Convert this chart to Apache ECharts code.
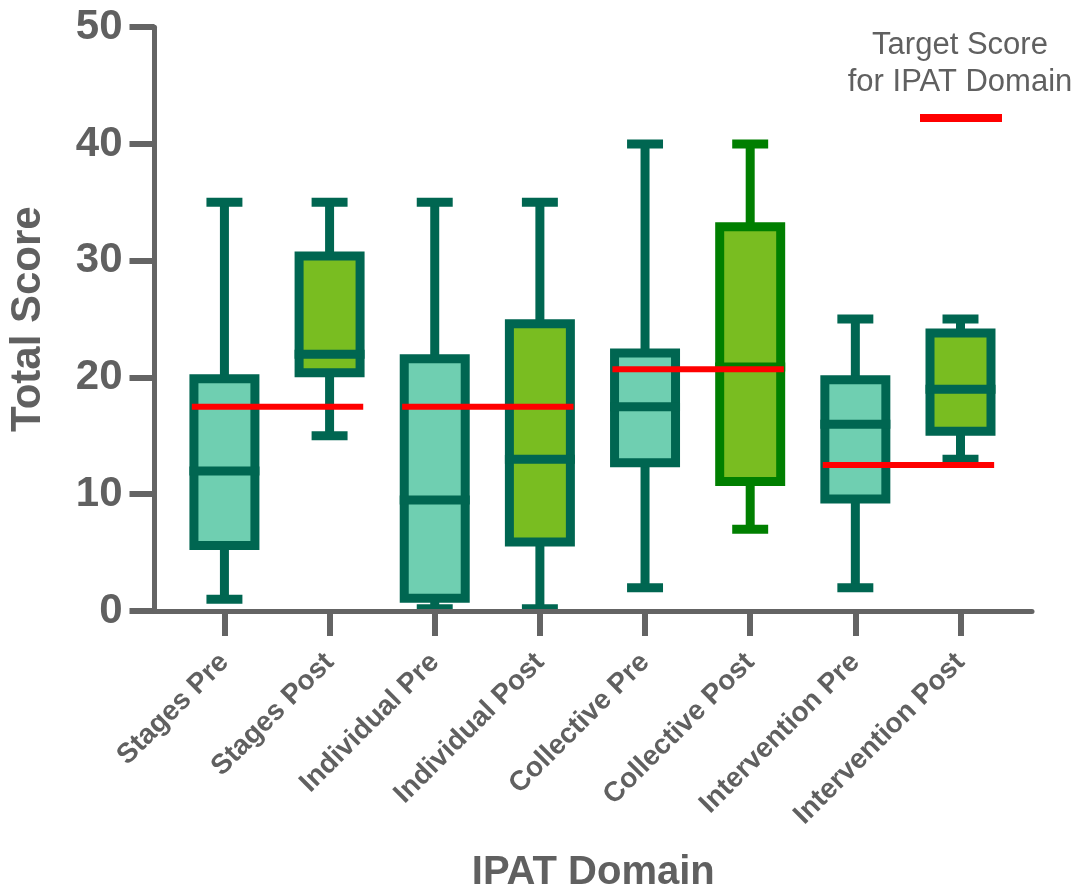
<!DOCTYPE html>
<html>
<head>
<meta charset="utf-8">
<script src="https://cdn.jsdelivr.net/npm/echarts@6/dist/echarts.min.js"></script>
<style>html,body{margin:0;padding:0;background:#fff;}#chart{width:1072px;height:892px;}</style>
</head>
<body>
<div id="chart"></div>
<script>
// ---- data ----
const categories = ['Stages Pre', 'Stages Post', 'Individual Pre', 'Individual Post',
  'Collective Pre', 'Collective Post', 'Intervention Pre', 'Intervention Post'];
const mins    = [1,    15,   0.2,  0.2,  2,    7,    2,    13];
const q1s     = [5.6,  20.4, 1.1,  5.9,  12.7, 11.1, 9.6,  15.4];
const medians = [12,   22,   9.5,  13,   17.5, 20.9, 16,   19];
const q3s     = [19.9, 30.4, 21.6, 24.6, 22.1, 32.9, 19.8, 23.8];
const maxs    = [35,   35,   35,   35,   40,   40,   25,   25];
const targetDomains = ['Stages', 'Individual', 'Collective', 'Intervention'];
const targetScores  = [17.5, 17.5, 20.7, 12.5];
const yTicks = [0, 10, 20, 30, 40, 50];

// ---- styles ----
const FONT = '"Liberation Sans", Arial, Helvetica, sans-serif';
const TEXT = '#606060';
const AXIS = '#646464';
const PRE_FILL = '#6fcfb1';
const POST_FILL = '#79bd21';
const DARK = '#006651';
const GREEN = '#007f00';
const RED = '#ff0000';

const boxData = categories.map((c, i) => [i, mins[i], q1s[i], medians[i], q3s[i], maxs[i]]);
const targetData = targetDomains.map((d, k) => [categories.indexOf(d + ' Pre'), targetScores[k]]);

function renderBox(params, api) {
  const x = api.value(0);
  const name = categories[x];
  const fill = /Pre$/.test(name) ? PRE_FILL : POST_FILL;
  const stroke = name === 'Collective Post' ? GREEN : DARK;
  const cw = api.size([1, 0])[0];
  const bw = cw * 0.58, capw = cw * 0.342, lw = 9;
  const pMin = api.coord([x, api.value(1)]);
  const pQ1 = api.coord([x, api.value(2)]);
  const pMed = api.coord([x, api.value(3)]);
  const pQ3 = api.coord([x, api.value(4)]);
  const pMax = api.coord([x, api.value(5)]);
  const cx = pMin[0];
  const ls = { stroke: stroke, lineWidth: lw, lineCap: 'butt' };
  return {
    type: 'group',
    children: [
      { type: 'line', shape: { x1: cx, y1: pMax[1], x2: cx, y2: pQ3[1] }, style: ls },
      { type: 'line', shape: { x1: cx, y1: pQ1[1], x2: cx, y2: pMin[1] }, style: ls },
      { type: 'line', shape: { x1: cx - capw / 2, y1: pMax[1], x2: cx + capw / 2, y2: pMax[1] }, style: ls },
      { type: 'line', shape: { x1: cx - capw / 2, y1: pMin[1], x2: cx + capw / 2, y2: pMin[1] }, style: ls },
      { type: 'rect', shape: { x: cx - bw / 2, y: pQ3[1], width: bw, height: pQ1[1] - pQ3[1] },
        style: { fill: fill, stroke: stroke, lineWidth: lw } },
      { type: 'line', shape: { x1: cx - bw / 2 - lw / 2, y1: pMed[1], x2: cx + bw / 2 + lw / 2, y2: pMed[1] }, style: ls }
    ]
  };
}

function renderTarget(params, api) {
  const x = api.value(0);
  const a = api.coord([x - 0.31, api.value(1)]);
  const b = api.coord([x + 1.32, api.value(1)]);
  return { type: 'line', shape: { x1: a[0], y1: a[1], x2: b[0], y2: b[1] },
    style: { stroke: RED, lineWidth: 6, lineCap: 'butt' } };
}

const chart = echarts.init(document.getElementById('chart'), null, { renderer: 'canvas' });
chart.setOption({
  animation: false,
  backgroundColor: '#ffffff',
  textStyle: { fontFamily: FONT },
  grid: { left: 154.5, right: 40, top: 27.2, bottom: 281, containLabel: false, outerBoundsMode: 'none' },
  xAxis: {
    type: 'value',
    min: -0.665, max: 7.68,
    z: 5,
    name: 'IPAT Domain',
    nameLocation: 'middle',
    nameGap: 242,
    nameTextStyle: { fontFamily: FONT, fontWeight: 'bold', fontSize: 40, color: TEXT },
    axisLine: { show: true, onZero: false, lineStyle: { color: AXIS, width: 5 } },
    axisTick: { show: true, customValues: categories.map((c, i) => i), length: 25, lineStyle: { color: AXIS, width: 6 } },
    axisLabel: {
      customValues: categories.map((c, i) => i),
      formatter: v => categories[Math.round(v)],
      rotate: 45, margin: 47,
      fontFamily: FONT, fontWeight: 'bold', fontSize: 28, color: TEXT
    },
    splitLine: { show: false }
  },
  yAxis: {
    type: 'value', min: yTicks[0], max: yTicks[yTicks.length - 1], interval: 10,
    name: 'Total Score',
    nameLocation: 'middle',
    nameGap: 105,
    nameTextStyle: { fontFamily: FONT, fontWeight: 'bold', fontSize: 42, color: TEXT },
    axisLine: { show: true, onZero: false, lineStyle: { color: AXIS, width: 5 } },
    axisTick: { show: true, length: 25, lineStyle: { color: AXIS, width: 6 } },
    axisLabel: { margin: 32, fontFamily: FONT, fontWeight: 'bold', fontSize: 42, color: TEXT },
    splitLine: { show: false }
  },
  graphic: [
    { type: 'text', x: 960, y: 63.5, style: { text: 'Target Score\nfor IPAT Domain', align: 'center', verticalAlign: 'middle',
      font: '31px ' + FONT, fill: TEXT, lineHeight: 37 } },
    { type: 'rect', shape: { x: 920, y: 114, width: 82, height: 8 }, style: { fill: RED } }
  ],
  series: [
    { type: 'custom', name: 'IPAT Score', renderItem: renderBox, data: boxData,
      encode: { x: 0, y: [1, 2, 3, 4, 5] }, z: 2 },
    { type: 'custom', name: 'Target Score', renderItem: renderTarget, data: targetData,
      encode: { x: 0, y: 1 }, z: 3 }
  ]
});
</script>
</body>
</html>
